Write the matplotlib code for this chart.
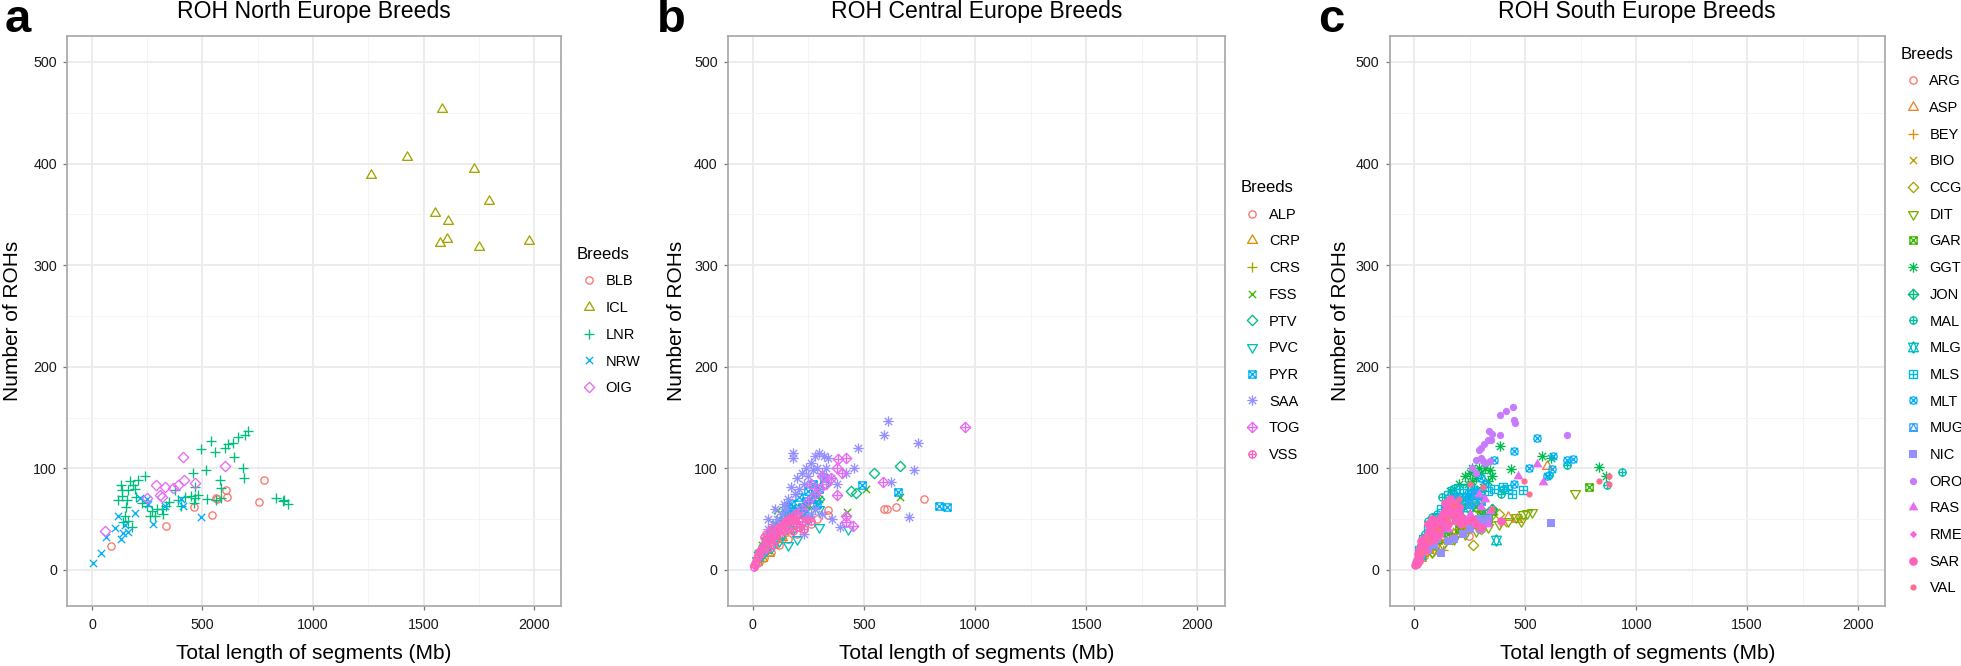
import numpy as np
import matplotlib
matplotlib.use("Agg")
import matplotlib.pyplot as plt
from matplotlib.path import Path
from matplotlib.lines import Line2D

plt.rcParams['font.family'] = ['Liberation Sans', 'DejaVu Sans']

# ---------------- data (total length Mb, number of ROHs) ----------------
# a: North Europe
BLB = [(87, 24), (337, 43), (462, 62), (543, 54), (567, 70), (562, 71), (607, 79), (612, 72), (757, 67), (780, 89)]
ICL = [(1264, 389), (1426, 406), (1582, 454), (1730, 395), (1795, 363), (1553, 351), (1612, 343), (1605, 326),
       (1576, 322), (1749, 318), (1979, 324)]
LNR = [(708, 137), (690, 133), (660, 131), (637, 125), (615, 124), (600, 120), (540, 127), (555, 116), (495, 119),
       (642, 111), (515, 98), (457, 95), (682, 100), (687, 90), (577, 89), (585, 81), (465, 82), (450, 73), (465, 71),
       (405, 63), (390, 69), (375, 79), (337, 63), (292, 60), (262, 53), (247, 63), (240, 92), (210, 89), (187, 84),
       (165, 79), (135, 79), (135, 73), (157, 69), (150, 53), (142, 47), (165, 48), (180, 42), (120, 69), (562, 69),
       (585, 71), (832, 71), (862, 68), (885, 65), (870, 69), (285, 53), (315, 60), (155, 62), (200, 72), (225, 66),
       (270, 58), (320, 55), (350, 67), (420, 72), (460, 66), (480, 74), (520, 70), (130, 84), (170, 88), (195, 80)]
NRW = [(7, 7), (42, 17), (63, 32), (102, 41), (120, 53), (142, 36), (150, 44), (195, 56), (247, 70), (277, 45),
       (330, 63), (405, 70), (412, 63), (495, 52), (165, 37), (217, 71), (130, 30), (255, 65)]
OIG = [(57, 38), (288, 84), (330, 82), (307, 74), (367, 81), (417, 89), (390, 84), (465, 86), (412, 111), (600, 102),
       (247, 71), (315, 72)]

# b: Central Europe
ALP = [(336, 59), (589, 60), (604, 60), (643, 62), (772, 70), (336, 54), (230, 40), (200, 35), (160, 30), (120, 25),
       (80, 18), (50, 12), (30, 8), (260, 45), (290, 50), (180, 45), (140, 38), (100, 28)]
CRP = [(72, 17), (20, 8), (40, 12), (60, 20), (90, 25), (110, 30), (130, 32), (50, 22), (30, 15)]
CRS = [(15, 8), (35, 12), (55, 18), (75, 22), (95, 28), (115, 32), (140, 35), (170, 40), (60, 28), (30, 20)]
FSS = [(511, 80), (662, 72), (423, 57), (80, 40), (100, 45), (120, 50), (140, 55), (160, 58), (60, 32), (40, 25),
       (200, 50), (180, 62), (220, 60), (250, 65), (300, 70), (109, 59)]
PTV = [(662, 102), (545, 95), (443, 78), (466, 76), (300, 70), (260, 65), (230, 60), (200, 55), (170, 50), (140, 45),
       (110, 40), (80, 32), (50, 25), (30, 18), (320, 85), (280, 80)]
PVC = [(298, 42), (426, 40), (157, 25), (20, 10), (40, 15), (60, 20), (80, 22), (100, 30), (130, 35), (180, 40),
       (220, 45), (250, 50), (300, 60), (200, 30), (120, 28)]
PYR = [(489, 84), (655, 77), (838, 63), (874, 62), (300, 80), (280, 75), (260, 70), (240, 68), (220, 62), (200, 60),
       (180, 58), (160, 55), (150, 62), (140, 50), (120, 45), (100, 40), (80, 35), (60, 28), (40, 20), (320, 90),
       (270, 85), (250, 78), (210, 72), (170, 65), (290, 65), (230, 55)]
SAA = [(606, 147), (592, 133), (743, 125), (475, 120), (727, 98), (623, 87), (704, 52), (181, 115), (181, 110),
       (453, 100), (392, 42), (358, 50), (170, 82), (200, 90), (220, 95), (240, 100), (260, 105), (280, 112),
       (300, 115), (320, 112), (340, 110), (250, 92), (230, 85), (210, 80), (190, 75), (270, 98), (290, 100),
       (310, 95), (330, 100), (150, 60), (130, 55), (110, 50), (90, 45), (70, 40), (160, 70), (140, 65), (280, 60),
       (260, 55), (230, 35), (350, 90), (380, 85), (420, 95), (310, 55), (240, 50), (100, 60), (70, 50)]
TOG = [(955, 141), (587, 87), (383, 109), (417, 110), (379, 74), (417, 53), (449, 43), (421, 47), (350, 90),
       (330, 85), (300, 80), (280, 75), (250, 68), (220, 60), (190, 55), (160, 48), (130, 40), (100, 35), (70, 28),
       (40, 18), (10, 5), (260, 85), (310, 92), (380, 100), (400, 95)]
VSS = [(5, 3), (10, 6), (15, 9), (20, 12), (25, 15), (30, 18), (35, 20), (40, 22), (50, 25), (60, 28), (70, 30),
       (80, 32), (90, 35), (100, 38), (110, 40), (120, 42), (130, 44), (140, 46), (150, 48), (160, 50), (170, 52),
       (180, 48), (190, 50), (200, 45), (210, 42), (60, 35), (80, 40), (100, 30), (120, 35), (140, 38), (160, 40),
       (50, 32), (70, 22), (90, 25), (220, 48), (240, 50), (180, 38), (200, 55), (230, 40), (260, 48)]

# c: South Europe
ARG = [(15, 8), (35, 14), (50, 18), (70, 22), (95, 27), (120, 30), (150, 33), (180, 36), (245, 33), (290, 40), (210, 38)]
ASP = [(597, 102), (465, 50), (30, 12), (60, 20), (100, 28), (150, 35), (210, 42), (260, 47), (330, 50), (420, 52)]
BEY = [(15, 8), (40, 14), (60, 18), (85, 22), (110, 27), (140, 30), (170, 35), (200, 40), (240, 38), (130, 20)]
BIO = [(20, 10), (45, 15), (70, 20), (95, 25), (130, 28), (160, 33), (190, 38), (230, 42), (280, 45), (330, 48),
       (470, 50), (400, 46)]
CCG = [(263, 25), (288, 60), (170, 30), (220, 38), (250, 45), (300, 40), (320, 52), (350, 55), (200, 50), (120, 25),
       (80, 18), (380, 55)]
DIT = [(725, 76), (420, 48), (460, 52), (490, 55), (510, 56), (530, 57), (380, 45), (330, 42), (280, 38), (230, 35),
       (180, 30), (130, 25), (80, 18), (480, 48)]
GAR = [(789, 82), (300, 55), (250, 45), (200, 40), (150, 35), (100, 30), (350, 58), (330, 50), (280, 62)]
GGT = [(384, 122), (436, 99), (574, 112), (617, 110), (834, 101), (864, 92), (250, 95), (260, 88), (280, 90),
       (300, 95), (320, 100), (330, 88), (270, 80), (240, 85), (310, 82), (160, 78), (200, 85), (290, 100), (350, 92),
       (340, 98), (230, 92), (260, 100), (180, 80)]
JON = [(150, 55), (180, 60), (200, 62), (230, 65), (260, 70), (280, 75), (300, 70), (120, 45), (90, 38), (60, 30),
       (40, 22), (320, 55), (350, 60), (210, 52)]
MAL = [(936, 96), (869, 84), (689, 103), (606, 93), (60, 48), (80, 52), (100, 55), (140, 60), (170, 70), (200, 72),
       (240, 76), (300, 75), (390, 75), (400, 80), (30, 25), (50, 35), (125, 72)]
MLG = [(369, 29), (50, 25), (80, 30), (120, 40), (160, 50), (200, 55), (240, 62), (30, 15), (270, 68)]
MLS = [(398, 82), (489, 79), (420, 80), (440, 75), (360, 80), (330, 78), (300, 77), (260, 76), (220, 80), (190, 80),
       (170, 78), (150, 74), (120, 60), (100, 52), (80, 48), (60, 40), (40, 30), (20, 20)]
MLT = [(552, 130), (447, 117), (515, 100), (620, 99), (687, 108), (717, 109), (357, 108), (625, 112), (447, 85),
       (300, 90), (270, 80), (250, 75), (230, 72), (200, 70), (180, 72), (160, 65), (320, 85), (140, 60), (600, 92)]
MUG = [(100, 45), (150, 55), (200, 60), (250, 65), (60, 30), (30, 18), (300, 68), (280, 75), (185, 70)]
NIC = [(618, 46), (310, 45), (320, 48), (300, 40), (330, 50), (120, 17), (180, 30), (220, 35), (250, 40), (90, 25),
       (60, 20), (150, 28), (100, 30), (290, 50)]
ORO = [(443, 160), (413, 156), (386, 152), (450, 148), (455, 145), (338, 137), (330, 128), (315, 124), (300, 120),
       (290, 118), (386, 133), (278, 108), (308, 107), (342, 107), (690, 133), (260, 100), (280, 95), (320, 105),
       (300, 110), (345, 128), (350, 134)]
RAS = [(552, 104), (466, 92), (582, 87), (300, 62), (320, 70), (250, 55), (200, 48), (150, 40), (100, 32), (340, 58),
       (290, 75), (330, 45)]
RME = [(20, 10), (30, 15), (40, 20), (50, 25), (60, 30), (70, 32), (80, 35), (90, 38), (100, 40), (110, 42), (120, 45),
       (130, 48), (140, 50), (150, 52), (160, 55), (40, 28), (55, 35), (75, 40), (95, 45), (115, 50), (140, 58),
       (170, 62), (190, 55), (210, 50), (230, 48)]
SAR = [(5, 5), (8, 8), (12, 10), (15, 12), (18, 16), (22, 20), (28, 24), (32, 28), (38, 30), (10, 6), (20, 10),
       (25, 15), (30, 18), (35, 22), (40, 25), (45, 28), (50, 30), (55, 33), (60, 35), (65, 38), (70, 40), (80, 42),
       (90, 45), (100, 48), (110, 40), (120, 52), (130, 55), (140, 58), (150, 60), (160, 65), (170, 62), (180, 58),
       (150, 45), (130, 42), (110, 35), (90, 30), (70, 28), (50, 20), (200, 55), (220, 50), (240, 48), (260, 50),
       (280, 45), (300, 42), (390, 48), (60, 45), (80, 50), (100, 38), (140, 66), (160, 70), (180, 66), (200, 62),
       (170, 55), (190, 48), (210, 45)]
VAL = [(496, 88), (519, 75), (831, 88), (879, 92), (879, 85), (310, 82), (350, 60), (250, 85), (200, 70), (150, 50),
       (100, 40), (60, 30), (30, 18), (180, 64)]

north_names = ['BLB', 'ICL', 'LNR', 'NRW', 'OIG']
north_data = [BLB, ICL, LNR, NRW, OIG]
central_names = ['ALP', 'CRP', 'CRS', 'FSS', 'PTV', 'PVC', 'PYR', 'SAA', 'TOG', 'VSS']
central_data = [ALP, CRP, CRS, FSS, PTV, PVC, PYR, SAA, TOG, VSS]
south_names = ['ARG', 'ASP', 'BEY', 'BIO', 'CCG', 'DIT', 'GAR', 'GGT', 'JON', 'MAL',
               'MLG', 'MLS', 'MLT', 'MUG', 'NIC', 'ORO', 'RAS', 'RME', 'SAR', 'VAL']
south_data = [ARG, ASP, BEY, BIO, CCG, DIT, GAR, GGT, JON, MAL, MLG, MLS, MLT, MUG, NIC, ORO, RAS, RME, SAR, VAL]

pal5 = ['#F8766D', '#A3A500', '#00BF7D', '#00B0F6', '#E76BF3']
pal10 = ['#F8766D', '#D89000', '#A3A500', '#39B600', '#00BF7D', '#00BFC4', '#00B0F6', '#9590FF', '#E76BF3', '#FF62BC']
pal20 = ['#F8766D', '#EA8331', '#D89000', '#C09B00', '#A3A500', '#7CAE00', '#39B600', '#00BB4E', '#00BF7D', '#00C1A3',
         '#00BFC4', '#00BAE0', '#00B0F6', '#35A2FF', '#9590FF', '#C77CFF', '#E76BF3', '#FA62DB', '#FF62BC', '#FF6C91']

# ---------------- R-like point shapes ----------------
R = 0.375
S2 = np.sqrt(2)
TRC0 = np.sqrt(4 * np.pi / (3 * np.sqrt(3)))
TRC1 = TRC0 * np.sqrt(3) / 2
TRC2 = TRC0 / 2


def poly(pts, closed=True):
    verts = list(pts)
    codes = [Path.MOVETO] + [Path.LINETO] * (len(pts) - 1)
    if closed:
        verts.append(pts[0])
        codes.append(Path.CLOSEPOLY)
    return Path(verts, codes)


def circ(r):
    return Path.circle((0, 0), r)


def plus(a):
    return [poly([(-a, 0), (a, 0)], False), poly([(0, -a), (0, a)], False)]


def cross(a):
    return [poly([(-a, -a), (a, a)], False), poly([(-a, a), (a, -a)], False)]


def square(a):
    return poly([(-a, -a), (a, -a), (a, a), (-a, a)])


def diamond(a):
    return poly([(0, -a), (a, 0), (0, a), (-a, 0)])


def tri_up():
    return poly([(0, TRC0 * R), (TRC1 * R, -TRC2 * R), (-TRC1 * R, -TRC2 * R)])


def tri_down():
    return poly([(0, -TRC0 * R), (TRC1 * R, TRC2 * R), (-TRC1 * R, TRC2 * R)])


def star_david():
    r = TRC0 * R
    yc = 0.5 * (TRC2 * R + r)
    xc = TRC1 * R
    return [poly([(0, -r), (xc, yc), (-xc, yc)]), poly([(0, r), (xc, -yc), (-xc, -yc)])]


shape_parts = {
    1: [circ(R)], 2: [tri_up()], 3: plus(S2 * R), 4: cross(R), 5: [diamond(S2 * R)], 6: [tri_down()],
    7: [square(R)] + cross(R), 8: cross(R) + plus(S2 * R), 9: [diamond(S2 * R)] + plus(S2 * R),
    10: [circ(R)] + plus(R), 11: star_david(), 12: [square(R)] + plus(R), 13: [circ(R)] + cross(R),
    14: [square(R), poly([(0, R), (R, -R), (-R, -R)])], 15: [square(R)], 16: [circ(R)], 17: [tri_up()],
    18: [diamond(R)], 19: [circ(R)], 20: [circ(0.25)],
}

PT = 7.0  # ggplot point size in points
LW = 0.95


def marker_kw(shape, color):
    path = Path.make_compound_path(*shape_parts[shape])
    ext = np.max(np.abs(path.vertices))
    kw = dict(marker=path, markersize=2 * ext * PT, linestyle='none')
    if shape >= 15:
        kw.update(markerfacecolor=color, markeredgecolor=color, markeredgewidth=LW if shape >= 19 else 0)
    else:
        kw.update(markerfacecolor='none', markeredgecolor=color, markeredgewidth=LW)
    return kw


# ---------------- figure ----------------
W, H = 1961, 666
fig = plt.figure(figsize=(W / 100, H / 100), dpi=100)

panels = [
    ('a', 'ROH North Europe Breeds', north_names, north_data, pal5, 67.3, 561.0, 5, -0.091),
    ('b', 'ROH Central Europe Breeds', central_names, central_data, pal10, 728.0, 1224.5, 657, -0.085),
    ('c', 'ROH South Europe Breeds', south_names, south_data, pal20, 1389.6, 1885.0, 1318, -0.080),
]

top_px, bot_px = 36, 606
for letter, title, names, data, pal, x0, x1, lx, ylab_x in panels:
    ax = fig.add_axes([x0 / W, (H - bot_px) / H, (x1 - x0) / W, (bot_px - top_px) / H])
    handles = []
    for i, (name, pts) in enumerate(zip(names, data)):
        arr = np.array(pts, dtype=float)
        kw = marker_kw(i + 1, pal[i])
        ax.plot(arr[:, 0], arr[:, 1], **kw)
        handles.append(Line2D([], [], label=name, **kw))

    ax.set_xlim(-111.5, 2121.5)
    ax.set_ylim(-35.5, 525.5)
    ax.set_xticks([0, 500, 1000, 1500, 2000])
    ax.set_xticks([250, 750, 1250, 1750], minor=True)
    ax.set_yticks([0, 100, 200, 300, 400, 500])
    ax.set_yticks([50, 150, 250, 350, 450], minor=True)
    ax.set_axisbelow(True)
    ax.grid(which='major', color='#EBEBEB', linewidth=1.3)
    ax.grid(which='minor', color='#F4F4F4', linewidth=0.7)
    for sp in ax.spines.values():
        sp.set_color('#A6A6A6')
        sp.set_linewidth(1.2)
    ax.tick_params(which='minor', length=0)
    ax.tick_params(which='major', length=2.9, width=0.9, color='#777777', labelsize=10.3, labelcolor='#1a1a1a')
    ax.tick_params(axis='x', pad=5.5)
    ax.tick_params(axis='y', pad=4.5)

    ax.set_title(title, fontsize=16.6, pad=13)
    ax.set_xlabel('Total length of segments (Mb)', fontsize=15, labelpad=9)
    ax.set_ylabel('Number of ROHs', fontsize=15)
    ax.yaxis.set_label_coords(ylab_x, 0.5)

    leg = ax.legend(handles=handles, title='Breeds', loc='center left',
                    bbox_to_anchor=(1 + 16 / (x1 - x0), 0.5), frameon=False, borderaxespad=0, borderpad=0,
                    fontsize=10.5, title_fontsize=12, handlelength=1.6, handletextpad=0.35,
                    labelspacing=0.87, alignment='left')

    fig.text(lx / W, 1 - 32 / H, letter, fontsize=34, fontweight='bold', va='baseline', ha='left')

fig.savefig('out.png', dpi=100, facecolor='white')
